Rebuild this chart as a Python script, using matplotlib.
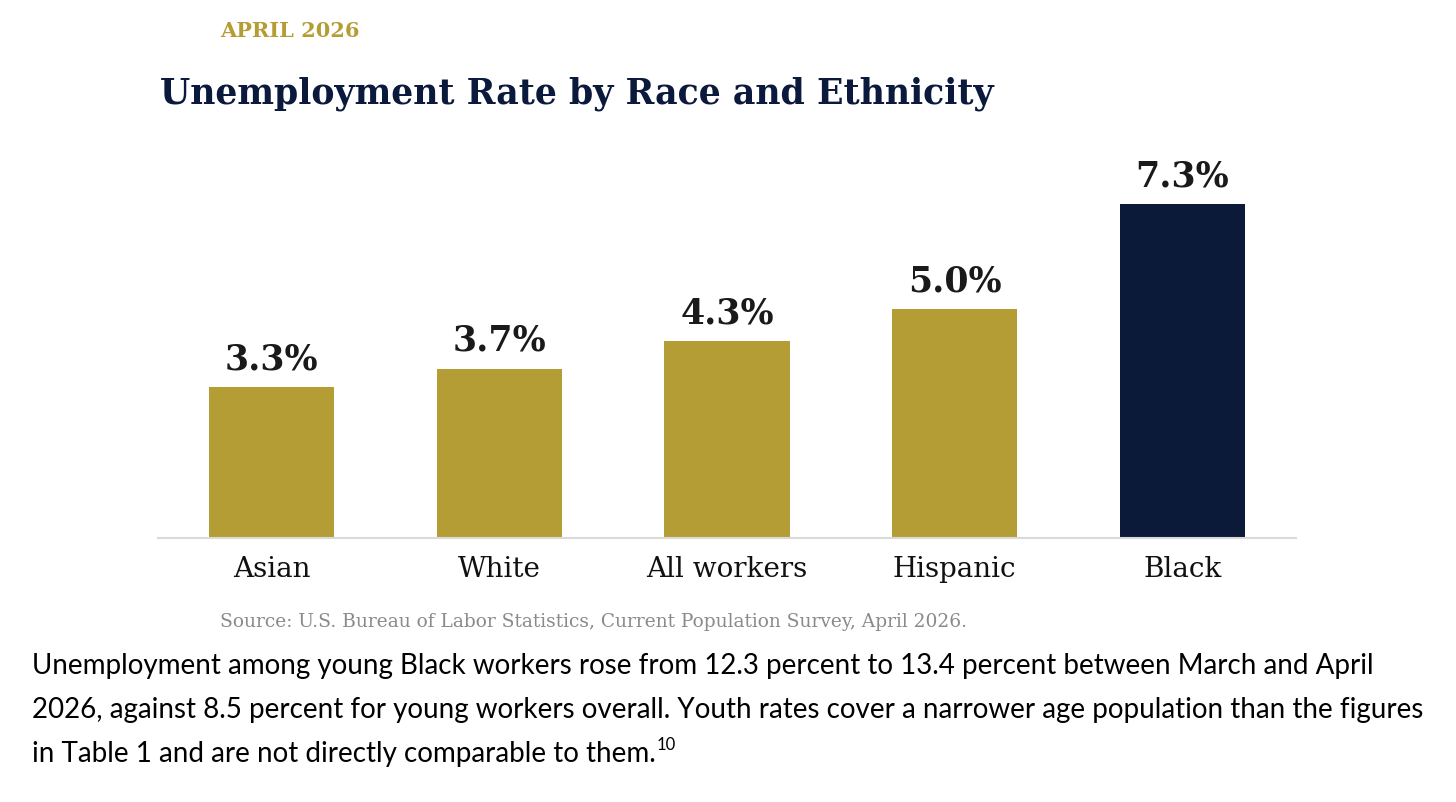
import matplotlib
matplotlib.use("Agg")
import matplotlib.pyplot as plt

# data
groups = ["Asian", "White", "All workers", "Hispanic", "Black"]
rates = [3.3, 3.7, 4.3, 5.0, 7.3]
bar_colors = ["#B59D36", "#B59D36", "#B59D36", "#B59D36", "#0A1A38"]

kicker = "APRIL 2026"
title = "Unemployment Rate by Race and Ethnicity"
source = "Source: U.S. Bureau of Labor Statistics, Current Population Survey, April 2026."
note_lines = [
    "Unemployment among young Black workers rose from 12.3 percent to 13.4 percent between March and April",
    "2026, against 8.5 percent for young workers overall. Youth rates cover a narrower age population than the figures",
    "in Table 1 and are not directly comparable to them.",
]
footnote_mark = "10"

W, H = 1456, 803
fig = plt.figure(figsize=(W / 100, H / 100), dpi=100)
fig.patch.set_facecolor("white")

# axes box in pixels: x 158..1296, baseline y=539, top y=173
ax = fig.add_axes([158 / W, (H - 539) / H, (1296 - 158) / W, (539 - 173) / H])
x = range(len(groups))
ax.bar(x, rates, width=0.55, color=bar_colors, zorder=2)
ax.set_xlim(-0.5, 4.5)
ax.set_ylim(0, 8)

for i, v in enumerate(rates):
    ax.annotate(f"{v:.1f}%", (i, v), xytext=(0, 8.5), textcoords="offset points",
                ha="center", va="bottom", fontsize=25, fontweight="bold",
                family="DejaVu Serif", color="#1A1A1A")

ax.set_xticks(list(x))
ax.set_xticklabels(groups, family="DejaVu Serif", fontsize=20, color="#111111")
ax.tick_params(axis="x", length=0, pad=12)
ax.set_yticks([])
for s in ["top", "right", "left"]:
    ax.spines[s].set_visible(False)
ax.spines["bottom"].set_color("#DADADA")
ax.spines["bottom"].set_linewidth(1.5)

# header texts
fig.text(220 / W, 1 - 31 / H, kicker, family="DejaVu Serif", fontweight="bold",
         fontsize=15, color="#B59D36", ha="left", va="center")
fig.text(160 / W, 1 - 94 / H, title, family="DejaVu Serif", fontweight="bold",
         fontsize=25, color="#0B1A3C", ha="left", va="center")
fig.text(220 / W, 1 - 622 / H, source, family="DejaVu Serif", fontsize=13.4,
         color="#8A8A8A", ha="left", va="center")

# paragraph below the chart
line_y = [666, 710, 754]
last = None
for txt, yy in zip(note_lines, line_y):
    last = fig.text(32 / W, 1 - yy / H, txt, family="Lato", fontsize=20,
                    color="#000000", ha="left", va="center")

fig.canvas.draw()
bb = last.get_window_extent(fig.canvas.get_renderer())
fig.text((bb.x1 + 1) / W, 1 - (line_y[-1] - 9) / H, footnote_mark, family="Lato",
         fontsize=12, color="#000000", ha="left", va="center")

fig.savefig("out.png", dpi=100, facecolor="white")
